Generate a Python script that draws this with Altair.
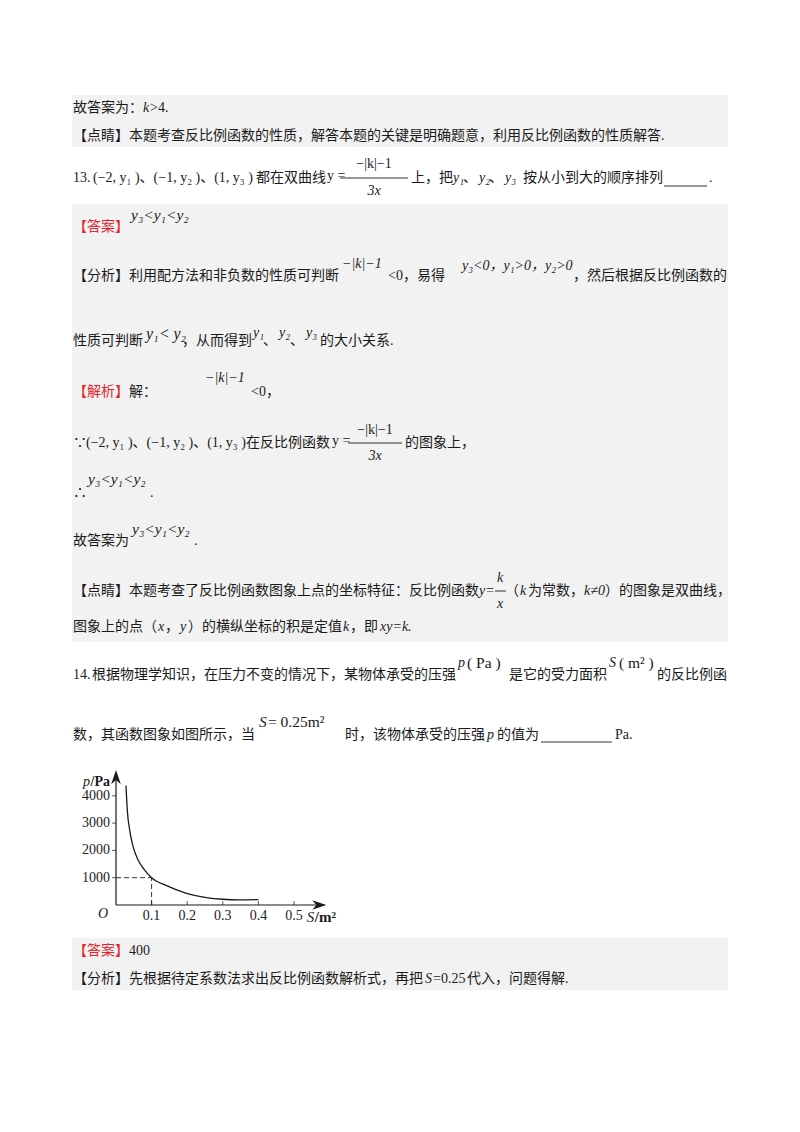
import altair as alt
import pandas as pd

# ---------------- figure data (question 14: p = k / S) ----------------
S_vals = [0.028, 0.032, 0.039, 0.048, 0.062, 0.080, 0.100, 0.142, 0.198, 0.254, 0.300, 0.347, 0.400]
p_vals = [4380, 3430, 2700, 2140, 1650, 1290, 1000, 710, 430, 270, 210, 190, 200]
x_ticks = [0.1, 0.2, 0.3, 0.4, 0.5]
x_tick_labels = ["0.1", "0.2", "0.3", "0.4", "0.5"]
y_ticks = [1000, 2000, 3000, 4000]
y_tick_labels = ["1000", "2000", "3000", "4000"]
marked_S = [0.1]
marked_p = [1000]

# ---------------- page text (content) ----------------
page_text = [
    "故答案为：", "k", ">4.",
    "【点睛】本题考查反比例函数的性质，解答本题的关键是明确题意，利用反比例函数的性质解答.",
    "13.", "(−2, y₁ )、(−1, y₂ )、(1, y₃ )", "都在双曲线", "y =", "−|k|−1", "3x", "上，把",
    "y₁", "、", "y₂", "、", "y₃", "按从小到大的顺序排列", ".",
    "【答案】", "y₃<y₁<y₂",
    "【分析】利用配方法和非负数的性质可判断", "−|k|−1", "<0，易得", "y₃<0，y₁>0，y₂>0", "，然后根据反比例函数的",
    "性质可判断", "y₁< y₂", "，从而得到", "y₁", "、", "y₂", "、", "y₃", "的大小关系.",
    "【解析】", "解：", "−|k|−1", "<0，",
    "∵", "(−2, y₁ )、(−1, y₂ )、(1, y₃ )", "在反比例函数", "y =", "−|k|−1", "3x", "的图象上，",
    "∴", "y₃<y₁<y₂", ".",
    "故答案为", "y₃<y₁<y₂", ".",
    "【点睛】本题考查了反比例函数图象上点的坐标特征：反比例函数", "y=", "k", "x", "（", "k", "为常数，", "k≠0", "）的图象是双曲线，",
    "图象上的点（", "x", "，", "y", "）的横纵坐标的积是定值", "k", "，即", "xy=k.",
    "14.", "根据物理学知识，在压力不变的情况下，某物体承受的压强", "p", "( Pa )", "是它的受力面积", "S", "( m² )", "的反比例函",
    "数，其函数图象如图所示，当", "S", " = 0.25m²", "时，该物体承受的压强", "p", "的值为", "Pa.",
    "【答案】", "400",
    "【分析】先根据待定系数法求出反比例函数解析式，再把", "S", "=0.25", "代入，问题得解.",
]

# ---------------- page layout (style, x, y in page pixels), same order ----------------
run_layout = [
    ("n", 73, 108), ("i", 143, 108), ("n", 150, 108),
    ("n", 73, 136),
    ("n", 73, 178), ("n", 93, 178), ("n", 256, 178), ("n", 327, 176), ("nc", 374, 164), ("ic", 374, 191), ("n", 411, 178),
    ("i", 453, 178), ("n", 463, 178), ("i", 479, 178), ("n", 489, 178), ("i", 505, 178), ("n", 523, 178), ("n", 709, 178),
    ("r", 73, 227), ("il", 131, 215),
    ("n", 73, 276), ("i", 342, 264), ("n", 388, 276), ("i", 462, 266), ("n", 573, 276),
    ("n", 73, 341), ("ib", 146, 334), ("n", 182, 341), ("i", 253, 333), ("n", 263, 341), ("i", 279, 333), ("n", 290, 341), ("i", 306, 333), ("n", 320, 341),
    ("r", 73, 392), ("n", 129, 392), ("i", 205, 378), ("n", 251, 392),
    ("n", 73, 443), ("n", 86, 443), ("n", 246, 443), ("n", 332, 441), ("nc", 375, 430), ("ic", 375, 456), ("n", 405, 443),
    ("n", 73, 493), ("il", 88, 479), ("n", 150, 493),
    ("n", 73, 541), ("il", 132, 529), ("n", 194, 541),
    ("n", 73, 591), ("i", 479, 591), ("ic", 500, 578), ("ic", 500, 604), ("n", 505, 591), ("i", 520, 591), ("n", 528, 591), ("i", 584, 591), ("n", 605, 591),
    ("n", 73, 627), ("i", 158, 627), ("n", 165, 627), ("i", 180, 627), ("n", 188, 627), ("i", 343, 627), ("n", 350, 627), ("i", 380, 627),
    ("n", 73, 675), ("n", 92, 675), ("i", 458, 663), ("l", 467, 663), ("n", 509, 675), ("i", 609, 663), ("l", 619, 663), ("n", 657, 675),
    ("n", 73, 735), ("il", 259, 722), ("l", 268, 722), ("n", 345, 735), ("i", 487, 735), ("n", 497, 735), ("n", 615, 735),
    ("r", 73, 951), ("n", 129, 951),
    ("n", 73, 979), ("i", 425, 979), ("n", 433, 979), ("n", 467, 979),
]

# fraction bars and answer blanks (x1, x2, y) and shaded blocks (x1, x2, y1, y2)
page_rules = [(340, 408, 178), (664, 707, 186), (348, 402, 443), (495, 506, 591), (541, 612, 742)]
page_boxes = [(72, 728, 95, 147), (72, 728, 204, 642), (72, 728, 938, 990)]

BLACK = "#1a1a1a"
RED = "#e3262b"
GREY = "#f2f2f2"
FONT = "Liberation Serif, Noto Sans CJK SC"

STYLES = {
    "n": dict(color=BLACK, fontStyle="normal", fontSize=14, align="left"),
    "l": dict(color=BLACK, fontStyle="normal", fontSize=15.5, align="left"),
    "i": dict(color=BLACK, fontStyle="italic", fontSize=14, align="left"),
    "il": dict(color=BLACK, fontStyle="italic", fontSize=15.5, align="left"),
    "ib": dict(color=BLACK, fontStyle="italic", fontSize=16, align="left"),
    "r": dict(color=RED, fontStyle="normal", fontSize=14, align="left"),
    "nc": dict(color=BLACK, fontStyle="normal", fontSize=14, align="center"),
    "ic": dict(color=BLACK, fontStyle="italic", fontSize=14, align="center"),
}

# page pixels -> chart pixels (the page has an 8px margin)
px = alt.Scale(domain=[8, 792], range=[0, 784], zero=False, nice=False)
py = alt.Scale(domain=[8, 1008], range=[0, 1000], zero=False, nice=False)

runs_df = pd.DataFrame({
    "t": page_text,
    "style": [r[0] for r in run_layout],
    "x": [r[1] for r in run_layout],
    "y": [r[2] for r in run_layout],
})
rules_df = pd.DataFrame(page_rules, columns=["x1", "x2", "y"])
boxes_df = pd.DataFrame(page_boxes, columns=["x1", "x2", "y1", "y2"])

page_layers = [
    alt.Chart(boxes_df).mark_rect(color=GREY).encode(
        x=alt.X("x1:Q", scale=px, axis=None), x2="x2:Q",
        y=alt.Y("y1:Q", scale=py, axis=None), y2="y2:Q"),
    alt.Chart(rules_df).mark_rule(color=BLACK, strokeWidth=0.9).encode(
        x=alt.X("x1:Q", scale=px, axis=None), x2="x2:Q",
        y=alt.Y("y:Q", scale=py, axis=None)),
]
for key, st in STYLES.items():
    sub = runs_df[runs_df["style"] == key]
    if len(sub) == 0:
        continue
    page_layers.append(
        alt.Chart(sub).mark_text(baseline="middle", font=FONT, **st).encode(
            x=alt.X("x:Q", scale=px, axis=None),
            y=alt.Y("y:Q", scale=py, axis=None),
            text="t:N"))
page = alt.layer(*page_layers)

# ---------------- the small figure ----------------
xs = alt.Scale(domain=[0, 0.6], range=[108, 321.6], zero=False, nice=False)
ys = alt.Scale(domain=[0, 5000], range=[897, 760.5], zero=False, nice=False)
SERIF = "Liberation Serif"
X_END = 0.57
Y_END = 4700


def X(f):
    return alt.X(f, scale=xs, axis=None)


def Y(f):
    return alt.Y(f, scale=ys, axis=None)


curve_df = pd.DataFrame({"S": S_vals, "p": p_vals})
guide_df = pd.DataFrame({"S": marked_S, "p": marked_p})
xt_df = pd.DataFrame({"S": x_ticks, "lab": x_tick_labels})
yt_df = pd.DataFrame({"p": y_ticks, "lab": y_tick_labels})
origin_df = pd.DataFrame({"S": [0], "p": [0]})

up_arrow = "M0,-1L0.65,0.9L0,0.35L-0.65,0.9Z"
right_arrow = "M1,0L-0.9,0.65L-0.35,0L-0.9,-0.65Z"

plot_layers = [
    # dashed guide to (0.1, 1000)
    alt.Chart(guide_df).transform_calculate(z="0").mark_rule(
        color=BLACK, strokeWidth=0.9, strokeDash=[5, 3]).encode(x=X("z:Q"), x2="S:Q", y=Y("p:Q")),
    alt.Chart(guide_df).transform_calculate(z="0").mark_rule(
        color=BLACK, strokeWidth=0.9, strokeDash=[5, 3]).encode(x=X("S:Q"), y=Y("z:Q"), y2="p:Q"),
    # axes lines
    alt.Chart(origin_df).transform_calculate(e=str(X_END)).mark_rule(
        color=BLACK, strokeWidth=1.2).encode(x=X("S:Q"), x2="e:Q", y=Y("p:Q")),
    alt.Chart(origin_df).transform_calculate(e=str(Y_END)).mark_rule(
        color=BLACK, strokeWidth=1.2).encode(x=X("S:Q"), y=Y("p:Q"), y2="e:Q"),
    # arrow heads
    alt.Chart(origin_df).transform_calculate(e=str(Y_END - 30)).mark_point(
        shape=up_arrow, size=220, filled=True, color=BLACK, opacity=1).encode(x=X("S:Q"), y=Y("e:Q")),
    alt.Chart(origin_df).transform_calculate(e=str(X_END)).mark_point(
        shape=right_arrow, size=220, filled=True, color=BLACK, opacity=1).encode(x=X("e:Q"), y=Y("p:Q")),
    # ticks
    alt.Chart(xt_df).transform_calculate(z="0").mark_tick(
        orient="vertical", size=4, thickness=1, yOffset=-2, color=BLACK).encode(x=X("S:Q"), y=Y("z:Q")),
    alt.Chart(yt_df).transform_calculate(z="0").mark_tick(
        orient="horizontal", size=4, thickness=1, xOffset=-2, color=BLACK).encode(x=X("z:Q"), y=Y("p:Q")),
    # tick labels
    alt.Chart(xt_df).transform_calculate(z="0").mark_text(
        font=SERIF, fontSize=14, color="#222222", align="center", baseline="middle", dy=11).encode(
        x=X("S:Q"), y=Y("z:Q"), text="lab:N"),
    alt.Chart(yt_df).transform_calculate(z="0").mark_text(
        font=SERIF, fontSize=14, color="#222222", align="right", baseline="middle", dx=-6).encode(
        x=X("z:Q"), y=Y("p:Q"), text="lab:N"),
    # origin and axis titles
    alt.Chart(origin_df).transform_calculate(t="'O'").mark_text(
        font=SERIF, fontSize=14, fontStyle="italic", color=BLACK, align="right", baseline="middle", dx=-8, dy=9).encode(
        x=X("S:Q"), y=Y("p:Q"), text="t:N"),
    alt.Chart(origin_df).transform_calculate(t="'/Pa'", q="4520").mark_text(
        font=SERIF, fontSize=14, fontWeight="bold", color=BLACK, align="right", baseline="middle", dx=-6).encode(
        x=X("S:Q"), y=Y("q:Q"), text="t:N"),
    alt.Chart(origin_df).transform_calculate(t="'p'", q="4520").mark_text(
        font=SERIF, fontSize=14, fontStyle="italic", color=BLACK, align="right", baseline="middle", dx=-26).encode(
        x=X("S:Q"), y=Y("q:Q"), text="t:N"),
    alt.Chart(origin_df).transform_calculate(t="'S'", r="0.536").mark_text(
        font=SERIF, fontSize=15, fontStyle="italic", color=BLACK, align="left", baseline="middle", dy=12).encode(
        x=X("r:Q"), y=Y("p:Q"), text="t:N"),
    alt.Chart(origin_df).transform_calculate(t="'/m²'", r="0.536").mark_text(
        font=SERIF, fontSize=15, fontWeight="bold", color=BLACK, align="left", baseline="middle", dx=8, dy=12).encode(
        x=X("r:Q"), y=Y("p:Q"), text="t:N"),
    # the curve
    alt.Chart(curve_df).mark_line(color=BLACK, strokeWidth=1.3, interpolate="monotone").encode(
        x=X("S:Q"), y=Y("p:Q")),
]
plot = alt.layer(*plot_layers)

chart = alt.layer(page, plot).resolve_scale(x="independent", y="independent").properties(
    width=784, height=1000, padding=0,
    autosize=alt.AutoSizeParams(type="none"),
).configure(background="white").configure_view(strokeWidth=0)

chart.save("out.html", embed_options={"renderer": "svg", "actions": False})
